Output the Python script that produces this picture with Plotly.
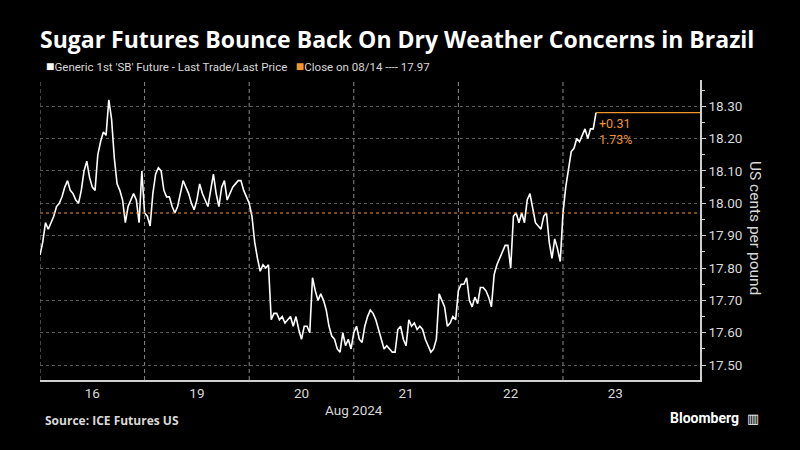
import plotly.graph_objects as go

# ---- data ----
day_labels = ["16", "19", "20", "21", "22", "23"]
steps_per_day = 38

prices_16 = [17.84, 17.88, 17.94, 17.92, 17.94, 17.96, 17.99, 18.00, 18.02, 18.05,
             18.07, 18.04, 18.03, 18.01, 18.00, 18.04, 18.10, 18.13, 18.08, 18.05,
             18.04, 18.15, 18.19, 18.22, 18.21, 18.32, 18.26, 18.14, 18.06, 18.04,
             18.01, 17.94, 17.99, 18.01, 18.03, 18.01, 17.94, 18.10]
prices_19 = [17.97, 17.96, 17.93, 18.03, 18.09, 18.11, 18.10, 18.04, 18.02, 18.02,
             17.99, 17.97, 17.99, 18.03, 18.07, 18.05, 18.03, 18.00, 17.98, 18.01,
             18.06, 18.03, 18.01, 17.99, 18.04, 18.09, 18.03, 17.99, 18.05, 18.07,
             18.01, 18.03, 18.05, 18.06, 18.07, 18.07, 18.04, 18.02]
prices_20 = [18.00, 17.96, 17.88, 17.83, 17.79, 17.81, 17.80, 17.81, 17.64, 17.66,
             17.66, 17.64, 17.65, 17.63, 17.64, 17.65, 17.62, 17.65, 17.61, 17.58,
             17.62, 17.62, 17.60, 17.77, 17.73, 17.70, 17.72, 17.70, 17.67, 17.62,
             17.59, 17.58, 17.55, 17.54, 17.60, 17.56, 17.58, 17.55]
prices_21 = [17.60, 17.62, 17.58, 17.57, 17.62, 17.65, 17.67, 17.66, 17.64, 17.61,
             17.58, 17.55, 17.56, 17.55, 17.54, 17.54, 17.61, 17.62, 17.58, 17.56,
             17.64, 17.62, 17.63, 17.61, 17.62, 17.61, 17.58, 17.56, 17.54, 17.55,
             17.58, 17.72, 17.70, 17.68, 17.62, 17.63, 17.65, 17.64]
prices_22 = [17.73, 17.75, 17.75, 17.77, 17.70, 17.68, 17.71, 17.69, 17.74, 17.74,
             17.73, 17.71, 17.68, 17.78, 17.81, 17.83, 17.85, 17.87, 17.87, 17.80,
             17.96, 17.97, 17.94, 17.97, 17.94, 18.01, 18.03, 17.98, 17.94, 17.93,
             17.92, 17.96, 17.97, 17.88, 17.83, 17.89, 17.86, 17.82]
prices_23 = [17.97, 18.05, 18.10, 18.16, 18.17, 18.20, 18.19, 18.21, 18.23, 18.20,
             18.23, 18.23, 18.28]

sessions = [prices_16, prices_19, prices_20, prices_21, prices_22, prices_23]
prev_close = 17.97
y_ticks = [17.50, 17.60, 17.70, 17.80, 17.90, 18.00, 18.10, 18.20, 18.30]

# ---- build series ----
xs, ys = [], []
for d, vals in enumerate(sessions):
    for k, v in enumerate(vals):
        xs.append(d + k / steps_per_day)
        ys.append(v)
last_x, last_y = xs[-1], ys[-1]
chg = last_y - prev_close
pct = chg / prev_close * 100

ORANGE = "#f0952f"
GRID = "#5a5a5a"
TXT = "#d8d8d8"
FONT = "Roboto"
TFONT = "Open Sans"

x_max = 6.31
y_range = [17.454, 18.381]

fig = go.Figure()
fig.add_trace(go.Scatter(x=xs, y=ys, mode="lines",
                         line=dict(color="white", width=1.6), hoverinfo="skip",
                         showlegend=False))

# vertical dashed day separators
for d in range(0, len(sessions)):
    fig.add_shape(type="line", xref="x", yref="paper", x0=d, x1=d, y0=0, y1=1,
                  line=dict(color="#8a8a8a", width=1, dash="4px,3px"), layer="below")

# previous close line
fig.add_shape(type="line", xref="paper", yref="y", x0=0, x1=1, y0=prev_close, y1=prev_close,
              line=dict(color=ORANGE, width=1.2, dash="dot"))
# last price line
fig.add_shape(type="line", xref="x", yref="y", x0=last_x, x1=x_max, y0=last_y, y1=last_y,
              line=dict(color=ORANGE, width=1.2))

fig.add_annotation(x=last_x, y=last_y, xref="x", yref="y", xanchor="left", yanchor="top",
                   xshift=1, yshift=-1, align="left", showarrow=False,
                   text=f"+{chg:.2f}<br>{pct:.2f}%",
                   font=dict(family=FONT, size=12.5, color=ORANGE))

fig.update_layout(
    width=800, height=450,
    paper_bgcolor="black", plot_bgcolor="black",
    margin=dict(l=40, r=100, t=80, b=70),
    title=dict(text="<b>Sugar Futures Bounce Back On Dry Weather Concerns in Brazil</b>",
               xref="container", yref="container", x=40 / 800, xanchor="left",
               y=1 - 40 / 450, yanchor="middle",
               font=dict(family=TFONT, size=23, color="white")),
    xaxis=dict(range=[0, x_max], tickmode="array",
               tickvals=[d + 0.5 for d in range(len(day_labels))], ticktext=day_labels,
               showgrid=False, zeroline=False, showline=True, linecolor="#cfcfcf",
               linewidth=1.5, ticks="", tickfont=dict(family=FONT, size=13.5, color=TXT)),
    yaxis=dict(range=y_range, side="right", tickmode="array", tickvals=y_ticks,
               ticktext=[f"{v:.2f}" for v in y_ticks],
               showgrid=True, gridcolor=GRID, griddash="dot", gridwidth=1,
               zeroline=False, showline=True, linecolor="#cfcfcf", linewidth=1.5,
               ticks="outside", ticklen=4, tickcolor="#cfcfcf",
               minor=dict(dtick=0.05, tick0=17.45, ticks="outside", ticklen=3,
                          tickcolor="#cfcfcf", showgrid=False),
               tickfont=dict(family=FONT, size=13.5, color=TXT)),
)

# axis title (reads top to bottom)
fig.add_annotation(xref="paper", yref="paper", x=(755 - 40) / 660, y=(380 - 228) / 300,
                   xanchor="center", yanchor="middle",
                   text="US cents per pound", textangle=90, showarrow=False,
                   font=dict(family=FONT, size=15.5, color=TXT))

# legend line
fig.add_annotation(xref="paper", yref="paper", x=0.006, y=(380 - 66) / 300,
                   xanchor="left", yanchor="middle", showarrow=False,
                   text=("<span style='color:white;font-size:14px'>■</span>Generic 1st 'SB' Future - Last Trade/Last Price"
                         f"   <span style='color:{ORANGE};font-size:14px'>■</span>Close on 08/14 ---- {prev_close:.2f}"),
                   font=dict(family=FONT, size=11.5, color=TXT))

# month label
fig.add_annotation(xref="x", yref="paper", x=3.0, y=(380 - 410) / 300,
                   xanchor="center", yanchor="middle", showarrow=False, text="Aug 2024",
                   font=dict(family=FONT, size=13.5, color=TXT))

# source
fig.add_annotation(xref="paper", yref="paper", x=0.005, y=(380 - 420) / 300,
                   xanchor="left", yanchor="middle", showarrow=False,
                   text="<b>Source: ICE Futures US</b>",
                   font=dict(family=TFONT, size=12, color=TXT))

# Bloomberg mark
fig.add_annotation(xref="paper", yref="paper", x=(741 - 40) / 660, y=(380 - 418) / 300,
                   xanchor="right", yanchor="middle", showarrow=False,
                   text="<b>Bloomberg</b>",
                   font=dict(family=FONT, size=14, color="white"))
fig.add_annotation(xref="paper", yref="paper", x=(753 - 40) / 660, y=(380 - 418) / 300,
                   xanchor="center", yanchor="middle", showarrow=False,
                   text="▥", font=dict(family="DejaVu Sans", size=13, color="white"))

fig.write_html("out.html")
